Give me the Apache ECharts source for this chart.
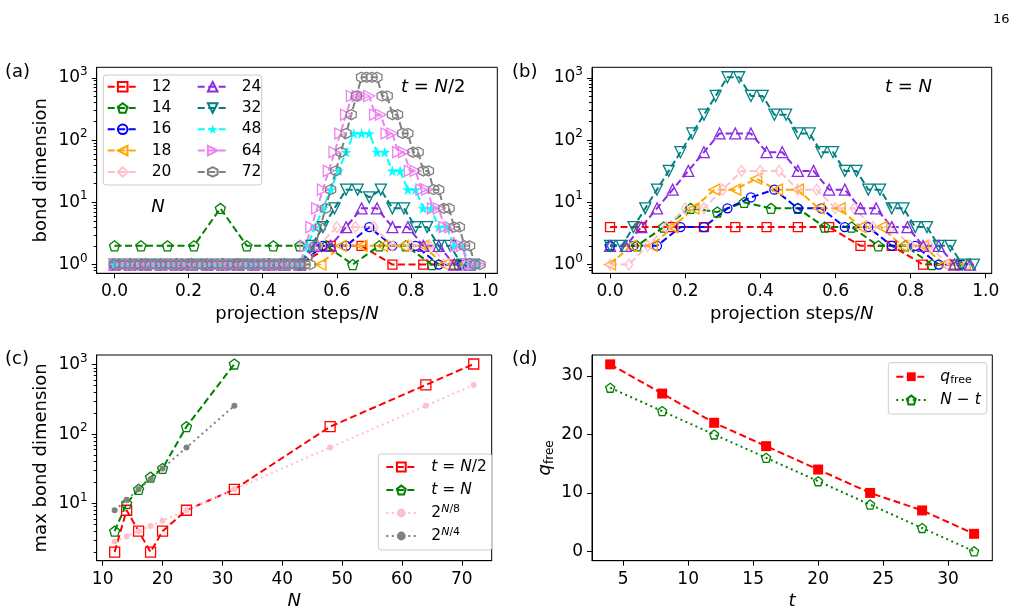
<!DOCTYPE html>
<html>
<head>
<meta charset="utf-8">
<script src="https://cdn.jsdelivr.net/npm/echarts@6/dist/echarts.min.js"></script>
<style>
html, body { margin: 0; padding: 0; background: #fff; }
#fig { width: 1016px; height: 614px; }
</style>
</head>
<body>
<div id="fig"></div>
<script>
const FONT = "DejaVu Sans";

// (a) bond dimension after each projection step, t = N/2 (index k -> step k)
const sizesHalf = [12, 14, 16, 18, 20, 24, 32, 48, 64, 72];
const dimHalf12 = [1,1,1,1,1,1,1,2,2,1,1,1];
const dimHalf14 = [2,2,2,2,8,2,2,2,2,1,2,2,1,1];
const dimHalf16 = [1,1,1,1,1,1,1,1,1,2,2,4,2,2,1,1];
const dimHalf18 = [1,1,1,1,1,1,1,1,1,1,1,2,2,2,2,2,1,1];
const dimHalf20 = [1,1,1,1,1,1,1,1,1,1,1,2,4,4,4,2,2,2,1,1];
const dimHalf24 = [1,1,1,1,1,1,1,1,1,1,1,1,1,2,2,4,8,8,4,4,2,2,1,1];
const dimHalf32 = [1,1,1,1,1,1,1,1,1,1,1,1,1,1,1,1,1,2,4,8,16,16,12,16,8,8,4,4,2,2,1,1];
const dimHalf48 = [1,1,1,1,1,1,1,1,1,1,1,1,1,1,1,1,1,1,1,1,1,1,1,1,1,2,4,8,16,32,64,128,128,128,64,64,32,32,16,16,8,8,4,4,2,2,1,1];
const dimHalf64 = [1,1,1,1,1,1,1,1,1,1,1,1,1,1,1,1,1,1,1,1,1,1,1,1,1,1,1,1,1,1,1,1,1,2,4,8,16,32,64,128,256,512,512,512,512,256,256,128,128,64,64,32,32,16,16,8,8,4,4,2,2,1,1,1];
const dimHalf72 = [1,1,1,1,1,1,1,1,1,1,1,1,1,1,1,1,1,1,1,1,1,1,1,1,1,1,1,1,1,1,1,1,1,1,1,1,1,1,1,2,4,8,16,32,64,128,256,512,1024,1024,1024,1024,512,512,256,256,128,128,64,64,32,32,16,16,8,8,4,4,2,2,1,1];

// (b) same, t = N
const sizesFull = [12, 14, 16, 18, 20, 24, 32];
const dimFull12 = [4,4,4,4,4,4,4,4,2,2,1,1];
const dimFull14 = [2,2,4,8,7,10,8,8,4,4,2,2,1,1];
const dimFull16 = [2,2,2,4,4,8,12,16,8,8,4,4,2,2,1,1];
const dimFull18 = [1,2,2,4,8,16,16,24,16,16,8,8,4,4,2,2,1,1];
const dimFull20 = [1,1,2,4,8,8,16,32,32,32,16,16,8,8,4,4,2,2,1,1];
const dimFull24 = [2,2,4,8,16,32,64,128,128,128,64,64,32,32,16,16,8,8,4,4,2,2,1,1];
const dimFull32 = [2,2,4,8,16,32,64,128,256,512,1024,1024,512,512,256,256,128,128,64,64,32,32,16,16,8,8,4,4,2,2,1,1];

// (c) max bond dimension vs N
const nAll = [12, 14, 16, 18, 20, 24, 32, 48, 64, 72];
const nSmall = [12, 14, 16, 18, 20, 24, 32];
const maxHalf = [2, 8, 4, 2, 4, 8, 16, 128, 512, 1024];
const maxFull = [4, 10, 16, 24, 32, 128, 1024];
const pow8 = [2.83, 3.36, 4, 4.76, 5.66, 8, 16, 64, 256, 512];
const pow4 = [8, 11.3, 16, 22.6, 32, 64, 256];

// (d) free qubits vs t
const tSteps = [4, 8, 12, 16, 20, 24, 28, 32];
const qFree = [32, 27, 22, 18, 14, 10, 7, 3];
const nMinusT = [28, 24, 20, 16, 12, 8, 4, 0];

// tick labels
const ticksFrac = [0, 0.2, 0.4, 0.6, 0.8, 1.0];
const ticksPow = [1, 10, 100, 1000];
const ticksN = [10, 20, 30, 40, 50, 60, 70];
const ticksT = [5, 10, 15, 20, 25, 30];
const ticksQ = [0, 10, 20, 30];

const minorPow = [];
[0.1, 1, 10, 100].forEach(d => { for (let m = 2; m <= 9; m++) minorPow.push(+(m * d).toFixed(1)); });

const PENT = "path://M0,-1 L0.951,-0.309 L0.588,0.809 L-0.588,0.809 L-0.951,-0.309 Z";
const HEX = "path://M0,-1 L0.866,-0.5 L0.866,0.5 L0,1 L-0.866,0.5 L-0.866,-0.5 Z";
const STAR = "path://M0,-1 L0.2245,-0.309 L0.951,-0.309 L0.363,0.118 L0.588,0.809 L0,0.382 L-0.588,0.809 L-0.363,0.118 L-0.951,-0.309 L-0.2245,-0.309 Z";

const look = {
  12: { color: "#ff0000", symbol: "rect", size: 9 },
  14: { color: "#008000", symbol: PENT, size: 10 },
  16: { color: "#0000ff", symbol: "circle", size: 9 },
  18: { color: "#ffa500", symbol: "triangle", size: 11, rot: 90 },
  20: { color: "#ffc0cb", symbol: "diamond", size: [8, 11] },
  24: { color: "#8a2be2", symbol: "triangle", size: 11 },
  32: { color: "#008080", symbol: "triangle", size: 11, rot: 180 },
  48: { color: "#00ffff", symbol: STAR, size: 11, fill: true },
  64: { color: "#ee82ee", symbol: "triangle", size: 11, rot: -90 },
  72: { color: "#808080", symbol: HEX, size: 10 }
};

const DASH = [7, 3.5];
const DOT = [2, 3.5];

function itemStyleOf(st) {
  return st.fill ? { color: st.color }
    : { color: "rgba(255,255,255,0)", borderColor: st.color, borderWidth: 1.3 };
}

function stepSeries(n, vals, xi, yi) {
  const st = look[n];
  return {
    type: "line", name: String(n), xAxisIndex: xi, yAxisIndex: yi,
    data: vals.map((v, k) => [k / n, v]),
    symbol: st.symbol, symbolSize: st.size, symbolRotate: st.rot || 0,
    showAllSymbol: true,
    lineStyle: { color: st.color, width: 2, type: DASH },
    itemStyle: itemStyleOf(st)
  };
}

const half = { 12: dimHalf12, 14: dimHalf14, 16: dimHalf16, 18: dimHalf18, 20: dimHalf20,
  24: dimHalf24, 32: dimHalf32, 48: dimHalf48, 64: dimHalf64, 72: dimHalf72 };
const full = { 12: dimFull12, 14: dimFull14, 16: dimFull16, 18: dimFull18, 20: dimFull20,
  24: dimFull24, 32: dimFull32 };

const series = [];
sizesHalf.forEach(n => series.push(stepSeries(n, half[n], 0, 0)));
sizesFull.forEach(n => series.push(stepSeries(n, full[n], 1, 2)));

series.push({
  type: "line", name: "tHalf", xAxisIndex: 2, yAxisIndex: 4,
  data: nAll.map((n, i) => [n, maxHalf[i]]),
  symbol: "rect", symbolSize: 10,
  lineStyle: { color: "#ff0000", width: 2, type: DASH },
  itemStyle: itemStyleOf({ color: "#ff0000" }), z: 3
});
series.push({
  type: "line", name: "tFull", xAxisIndex: 2, yAxisIndex: 4,
  data: nSmall.map((n, i) => [n, maxFull[i]]),
  symbol: PENT, symbolSize: 10,
  lineStyle: { color: "#008000", width: 2, type: DASH },
  itemStyle: itemStyleOf({ color: "#008000" }), z: 3
});
series.push({
  type: "line", name: "p8", xAxisIndex: 2, yAxisIndex: 4,
  data: nAll.map((n, i) => [n, pow8[i]]),
  symbol: "circle", symbolSize: 6,
  lineStyle: { color: "#ffc0cb", width: 2, type: DOT },
  itemStyle: { color: "#ffc0cb" }
});
series.push({
  type: "line", name: "p4", xAxisIndex: 2, yAxisIndex: 4,
  data: nSmall.map((n, i) => [n, pow4[i]]),
  symbol: "circle", symbolSize: 6,
  lineStyle: { color: "#808080", width: 2, type: DOT },
  itemStyle: { color: "#808080" }
});

series.push({
  type: "line", name: "qfree", xAxisIndex: 3, yAxisIndex: 6,
  data: tSteps.map((t, i) => [t, qFree[i]]),
  symbol: "rect", symbolSize: 10,
  lineStyle: { color: "#ff0000", width: 2, type: DASH },
  itemStyle: { color: "#ff0000" }
});
series.push({
  type: "line", name: "nmt", xAxisIndex: 3, yAxisIndex: 6,
  data: tSteps.map((t, i) => [t, nMinusT[i]]),
  symbol: PENT, symbolSize: 9,
  lineStyle: { color: "#008000", width: 2, type: DOT },
  itemStyle: itemStyleOf({ color: "#008000" })
});
series.forEach(s => { s.animation = false; });

const powRich = {
  b: { fontSize: 17, fontFamily: FONT, color: "#000", lineHeight: 24 },
  s: { fontSize: 12, fontFamily: FONT, color: "#000", lineHeight: 13, verticalAlign: "top" }
};
function powLabel(v) {
  return "{b|10}{s|" + Math.round(Math.log10(v)) + "}";
}
const mathRich = {
  t: { fontSize: 18, fontFamily: FONT, color: "#000", lineHeight: 22 },
  i: { fontSize: 18, fontFamily: FONT, color: "#000", fontStyle: "italic", lineHeight: 22 },
  sub: { fontSize: 12, fontFamily: FONT, color: "#000", lineHeight: 12, verticalAlign: "bottom" }
};

function xAxisOf(grid, min, max, ticks, fmt, name) {
  return {
    gridIndex: grid, type: "value", min: min, max: max,
    axisLine: { show: true, onZero: false, lineStyle: { color: "#000", width: 1 } },
    axisTick: { show: true, length: 5, customValues: ticks, lineStyle: { color: "#000" } },
    axisLabel: { customValues: ticks, formatter: fmt, color: "#000", fontSize: 17, fontFamily: FONT, margin: 10 },
    splitLine: { show: false },
    name: name, nameLocation: "middle", nameGap: 30,
    nameTextStyle: { fontSize: 18, fontFamily: FONT, color: "#000", rich: mathRich }
  };
}
function logAxisPair(grid, min, max, name) {
  return [{
    gridIndex: grid, type: "log", logBase: 10, min: min, max: max, position: "left",
    axisLine: { show: true, onZero: false, lineStyle: { color: "#000", width: 1 } },
    axisTick: { show: true, length: 5, customValues: ticksPow, lineStyle: { color: "#000" } },
    axisLabel: { customValues: ticksPow, formatter: powLabel, rich: powRich, margin: 9 },
    splitLine: { show: false },
    name: name, nameLocation: "middle", nameGap: 46,
    nameTextStyle: { fontSize: 18, fontFamily: FONT, color: "#000" }
  }, {
    gridIndex: grid, type: "log", logBase: 10, min: min, max: max, position: "left",
    axisLine: { show: false, onZero: false },
    axisTick: { show: true, length: 3, customValues: minorPow, lineStyle: { color: "#000" } },
    axisLabel: { show: false },
    splitLine: { show: false }
  }];
}

const frac = v => v.toFixed(1);
const plain = v => String(v);
const gridBase = { show: true, borderColor: "#000", borderWidth: 1, backgroundColor: "transparent", outerBoundsMode: "none" };

const LEG = 15.5;
const legendText = { fontSize: LEG, lineHeight: 18, fontFamily: FONT, color: "#000", padding: [0, 0, 0, 9] };
const legendNames = {
  tHalf: "{i|t} = {i|N}/2",
  tFull: "{i|t} = {i|N}",
  p8: "{t|2}{si|N}{s|/8}",
  p4: "{t|2}{si|N}{s|/4}",
  qfree: "{i|q}{sub|free}",
  nmt: "{i|N} \u2212 {i|t}"
};
const legendRich = {
  t: { fontSize: LEG, fontFamily: FONT, color: "#000", lineHeight: 18 },
  i: { fontSize: LEG, fontFamily: FONT, color: "#000", fontStyle: "italic", lineHeight: 18 },
  si: { fontSize: 11, fontFamily: FONT, color: "#000", fontStyle: "italic", lineHeight: 10, verticalAlign: "top" },
  s: { fontSize: 11, fontFamily: FONT, color: "#000", lineHeight: 10, verticalAlign: "top" },
  sub: { fontSize: 11, fontFamily: FONT, color: "#000", lineHeight: 10, verticalAlign: "bottom" }
};

const option = {
  animation: false,
  backgroundColor: "#fff",
  grid: [
    Object.assign({ left: 96.7, top: 67.3, width: 400.6, height: 206 }, gridBase),
    Object.assign({ left: 592, top: 67.3, width: 399.7, height: 206 }, gridBase),
    Object.assign({ left: 96.7, top: 355, width: 395, height: 205.7 }, gridBase),
    Object.assign({ left: 592, top: 355, width: 400.3, height: 205.7 }, gridBase)
  ],
  xAxis: [
    xAxisOf(0, -0.048, 1.033, ticksFrac, frac, "{t|projection steps/}{i|N}"),
    xAxisOf(1, -0.048, 1.016, ticksFrac, frac, "{t|projection steps/}{i|N}"),
    xAxisOf(2, 9, 75, ticksN, plain, "{i|N}"),
    xAxisOf(3, 2.6, 33.4, ticksT, plain, "{i|t}")
  ],
  yAxis: [
    ...logAxisPair(0, 0.724, 1479, "bond dimension"),
    ...logAxisPair(1, 0.724, 1479, ""),
    ...logAxisPair(2, 1.5, 1380, "max bond dimension"),
    {
      gridIndex: 3, type: "value", min: -1.6, max: 33.6, position: "left",
      axisLine: { show: true, onZero: false, lineStyle: { color: "#000", width: 1 } },
      axisTick: { show: true, length: 5, customValues: ticksQ, lineStyle: { color: "#000" } },
      axisLabel: { customValues: ticksQ, color: "#000", fontSize: 17, fontFamily: FONT, margin: 9 },
      splitLine: { show: false },
      name: "{i|q}{sub|free}", nameLocation: "middle", nameGap: 36,
      nameTextStyle: { rich: mathRich }
    }
  ],
  legend: [
    { orient: "vertical", left: 106.7, top: 77.7, padding: 0, itemWidth: 30, itemHeight: 12, itemGap: 3.3,
      selectedMode: false, data: ["12", "14", "16", "18", "20"], textStyle: legendText },
    { orient: "vertical", left: 196.7, top: 77.7, padding: 0, itemWidth: 30, itemHeight: 12, itemGap: 3.3,
      selectedMode: false, data: ["24", "32", "48", "64", "72"], textStyle: legendText },
    { orient: "vertical", left: 378.3, top: 454, padding: [4, 5, 5, 7], itemWidth: 30, itemHeight: 11, itemGap: 5,
      borderColor: "#cccccc", borderWidth: 1, borderRadius: 3, backgroundColor: "rgba(255,255,255,0.8)",
      selectedMode: false, data: ["tHalf", "tFull", "p8", "p4"],
      formatter: n => legendNames[n],
      textStyle: Object.assign({ rich: legendRich }, legendText, { padding: [0, 0, 0, 10] }) },
    { orient: "vertical", left: 888.3, top: 362.7, padding: [5, 6, 5, 7], itemWidth: 30, itemHeight: 11, itemGap: 5.3,
      borderColor: "#cccccc", borderWidth: 1, borderRadius: 3, backgroundColor: "rgba(255,255,255,0.8)",
      selectedMode: false, data: ["qfree", "nmt"],
      formatter: n => legendNames[n], textStyle: Object.assign({ rich: legendRich }, legendText) }
  ],
  graphic: [
    { type: "rect", z: 3, shape: { x: 103.3, y: 75, width: 158.4, height: 110, r: 3 },
      style: { fill: "rgba(255,255,255,0.8)", stroke: "#cccccc", lineWidth: 1 } },
    { type: "text", x: 5, y: 72, style: { text: "(a)", fontSize: 18, fontFamily: FONT, fill: "#000", verticalAlign: "middle" } },
    { type: "text", x: 512, y: 72, style: { text: "(b)", fontSize: 18, fontFamily: FONT, fill: "#000", verticalAlign: "middle" } },
    { type: "text", x: 5, y: 359, style: { text: "(c)", fontSize: 18, fontFamily: FONT, fill: "#000", verticalAlign: "middle" } },
    { type: "text", x: 512, y: 359, style: { text: "(d)", fontSize: 18, fontFamily: FONT, fill: "#000", verticalAlign: "middle" } },
    { type: "text", x: 993, y: 20, style: { text: "16", fontSize: 13, fontFamily: FONT, fill: "#000", verticalAlign: "middle" } },
    { type: "text", x: 401, y: 87, style: { text: "{i|t} = {i|N}/2", fontSize: 18, fontFamily: FONT, fill: "#000",
      verticalAlign: "middle", rich: mathRich } },
    { type: "text", x: 885, y: 87, style: { text: "{i|t} = {i|N}", fontSize: 18, fontFamily: FONT, fill: "#000",
      verticalAlign: "middle", rich: mathRich } },
    { type: "text", x: 158, y: 207, style: { text: "N", fontSize: 18, fontFamily: FONT, fontStyle: "italic", fill: "#000",
      align: "center", verticalAlign: "middle" } }
  ],
  series: series
};

const chart = echarts.init(document.getElementById("fig"));
chart.setOption(option);
</script>
</body>
</html>
